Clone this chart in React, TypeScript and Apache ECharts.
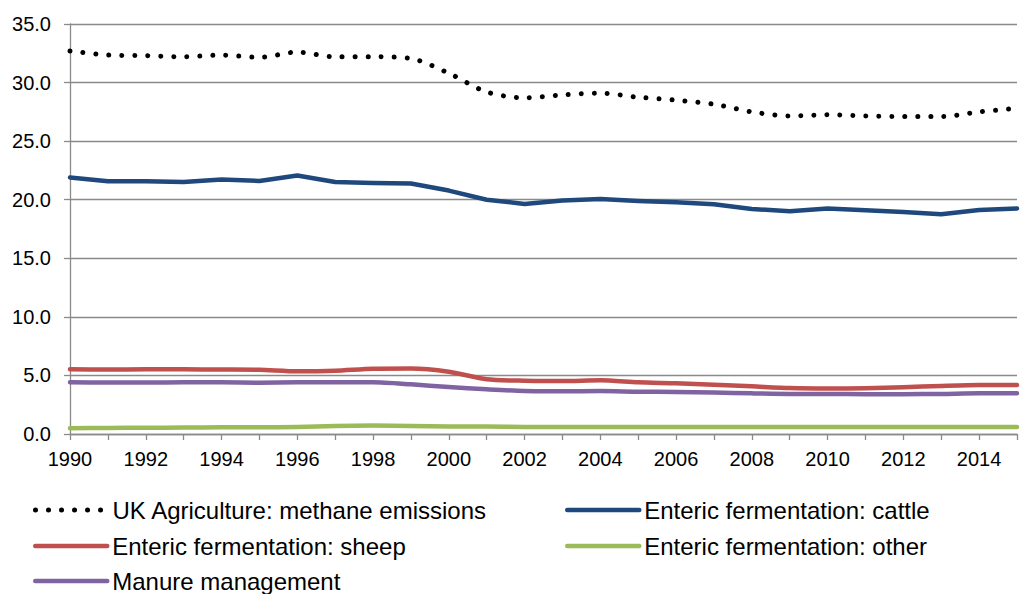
import React, { useEffect, useRef } from "react";
import * as echarts from "echarts";

const years = [1990, 1991, 1992, 1993, 1994, 1995, 1996, 1997, 1998, 1999, 2000, 2001, 2002, 2003, 2004, 2005, 2006, 2007, 2008, 2009, 2010, 2011, 2012, 2013, 2014, 2015];
const methane = [32.7, 32.35, 32.3, 32.2, 32.35, 32.15, 32.6, 32.2, 32.2, 32.05, 30.8, 29.2, 28.7, 28.95, 29.1, 28.75, 28.5, 28.15, 27.5, 27.15, 27.25, 27.15, 27.1, 27.1, 27.5, 27.8];
const cattle = [21.9, 21.58, 21.58, 21.52, 21.72, 21.6, 22.06, 21.52, 21.43, 21.38, 20.78, 20.0, 19.64, 19.93, 20.07, 19.9, 19.79, 19.62, 19.21, 19.02, 19.24, 19.1, 18.96, 18.76, 19.13, 19.25];
const sheep = [5.52, 5.5, 5.52, 5.52, 5.5, 5.48, 5.35, 5.4, 5.58, 5.6, 5.32, 4.67, 4.55, 4.53, 4.58, 4.41, 4.33, 4.21, 4.07, 3.92, 3.88, 3.9, 3.99, 4.1, 4.18, 4.18];
const other = [0.5, 0.52, 0.53, 0.55, 0.57, 0.58, 0.6, 0.68, 0.72, 0.68, 0.64, 0.63, 0.6, 0.6, 0.6, 0.6, 0.6, 0.6, 0.6, 0.6, 0.6, 0.6, 0.6, 0.6, 0.6, 0.6];
const manure = [4.41, 4.4, 4.4, 4.41, 4.41, 4.37, 4.41, 4.41, 4.41, 4.24, 4.01, 3.82, 3.67, 3.65, 3.67, 3.61, 3.59, 3.55, 3.47, 3.42, 3.42, 3.4, 3.4, 3.42, 3.47, 3.47];
const seriesNames = [
  "UK Agriculture: methane emissions",
  "Enteric fermentation: cattle",
  "Enteric fermentation: sheep",
  "Enteric fermentation: other",
  "Manure management",
];

const pairs = (vals: number[]) => years.map((y, i) => [y, vals[i]]);

export default function App() {
  const ref = useRef<HTMLDivElement>(null);
  useEffect(() => {
    if (!ref.current) return;
    const chart = echarts.init(ref.current, undefined, { renderer: "svg" });
    const font = "'Liberation Sans', Arial, sans-serif";
    const gridColor = "#8a8a8a";
    const line = (name: string, vals: number[], color: string, extra: any = {}) => ({
      name,
      type: "line",
      data: pairs(vals),
      symbol: "none",
      smooth: extra.smooth ?? 0.25,
      lineStyle: { color, width: 4.5, cap: "round", join: "round", ...(extra.lineStyle || {}) },
      itemStyle: { color },
    });
    const legendItem = (name: string, left: number, rowCenter: number, dotted = false) => ({
      data: [name],
      orient: "horizontal",
      left,
      top: rowCenter - 11,
      padding: 0,
      itemWidth: 72,
      itemHeight: 22,
      selectedMode: false,
      itemStyle: { opacity: 0 },
      lineStyle: dotted
        ? { width: 5, type: [0.01, 13], cap: "round" }
        : { width: 4.5, cap: "round" },
      textStyle: { fontFamily: font, fontSize: 24, color: "#000", lineHeight: 22 },
    });
    chart.setOption({
      animation: false,
      backgroundColor: "#ffffff",
      grid: { left: 70, top: 24, bottom: 160, right: -12.5, containLabel: false },
      xAxis: {
        type: "value",
        min: 1990,
        max: 2015,
        interval: 1,
        axisLine: { show: true, lineStyle: { color: gridColor, width: 1.3 } },
        axisTick: { show: true, length: 6, lineStyle: { color: gridColor, width: 1.3 } },
        splitLine: { show: false },
        axisLabel: {
          color: "#000",
          fontFamily: font,
          fontSize: 20,
          margin: 15,
          formatter: (v: number) => (v % 2 === 0 ? String(v) : ""),
        },
      },
      yAxis: {
        type: "value",
        min: 0,
        max: 35,
        interval: 5,
        axisLine: { show: true, lineStyle: { color: gridColor, width: 1.3 } },
        axisTick: { show: true, length: 6, lineStyle: { color: gridColor, width: 1.3 } },
        splitLine: { show: true, lineStyle: { color: gridColor, width: 1.3 } },
        axisLabel: {
          color: "#000",
          fontFamily: font,
          fontSize: 20,
          margin: 19,
          formatter: (v: number) => v.toFixed(1),
        },
      },
      legend: [
        legendItem(seriesNames[0], 33, 509, true),
        legendItem(seriesNames[1], 565, 509),
        legendItem(seriesNames[2], 33, 545),
        legendItem(seriesNames[3], 565, 545),
        legendItem(seriesNames[4], 33, 580),
      ],
      series: [
        line(seriesNames[1], cattle, "#1f497d", { smooth: false }),
        line(seriesNames[2], sheep, "#c0504d"),
        line(seriesNames[3], other, "#9bbb59"),
        line(seriesNames[4], manure, "#8064a2"),
        line(seriesNames[0], methane, "#000000", {
          smooth: 0.3,
          lineStyle: { width: 5, type: [0.01, 13], cap: "round" },
        }),
      ],
    });
    return () => chart.dispose();
  }, []);
  return (
    <div
      ref={ref}
      style={{ position: "fixed", left: 0, top: 0, width: 1020, height: 594, background: "#fff" }}
    />
  );
}
